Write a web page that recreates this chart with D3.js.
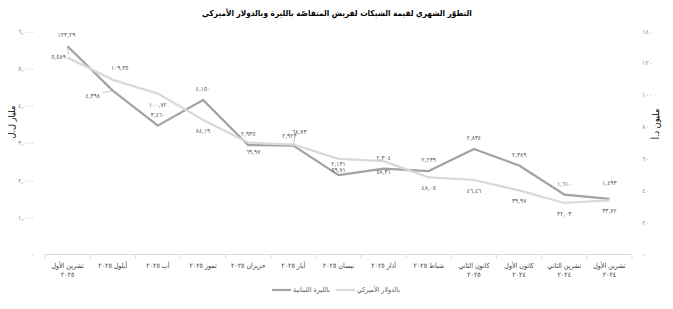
<!DOCTYPE html>
<meta charset="utf-8">
<head>
<title>الشيكات المتقاصة</title>
<style>
body { margin: 0; background: #fff; font-family: "DejaVu Sans", sans-serif; }
.tick text { font-family: "DejaVu Sans", sans-serif; }
</style>
</head>
<body>
<script src="https://cdn.jsdelivr.net/npm/d3@7"></script>
<script>

// Data (right to left on the page: newest month first)
var months = [
  ["تشرين الأول", "٢٠٢٥"], ["أيلول ٢٠٢٥"], ["آب ٢٠٢٥"], ["تموز ٢٠٢٥"],
  ["حزيران ٢٠٢٥"], ["أيار ٢٠٢٥"], ["نيسان ٢٠٢٥"], ["آذار ٢٠٢٥"],
  ["شباط ٢٠٢٥"], ["كانون الثاني", "٢٠٢٥"], ["كانون الأول", "٢٠٢٤"],
  ["تشرين الثاني", "٢٠٢٤"], ["تشرين الأول", "٢٠٢٤"]
];
var lbp = [5589, 4398, 3460, 4150, 2935, 2923, 2131, 2304, 2239, 2834, 2389, 1610, 1493];
var usd = [123.29, 109.35, 100.72, 84.19, 69.97, 68.73, 59.71, 58.31, 48.05, 46.46, 39.97, 32.03, 33.72];
var lbpTicks = [0, 1000, 2000, 3000, 4000, 5000, 6000];
var usdTicks = [0, 20, 40, 60, 80, 100, 120, 140];

var title = "التطوّر الشهري لقيمة الشيكات لفريش المتقاصّة بالليرة وبالدولار الأميركي";
var seriesNames = ["بالليرة اللبنانية", "بالدولار الأميركي"];

var W = 673, H = 309;
var plotLeft = 45, plotRight = 632, plotBottom = 254.5, plotTop = 31;
var darkCol = "#a3a3a3", lightCol = "#d9d9d9";
var condensed = "'DejaVu Sans Condensed', 'DejaVu Sans', sans-serif";

function arDigits(s) {
  return s.replace(/\d/g, function(d) { return "٠١٢٣٤٥٦٧٨٩"[+d]; });
}
function fmtLbp(v) { return arDigits(d3.format(",")(v)); }
function fmtUsd(v) { return arDigits(d3.format(".2f")(v)).replace(".", ","); }

var svg = d3.select("body").append("svg")
  .attr("width", W).attr("height", H);

var x = d3.scaleBand().domain(d3.range(months.length)).range([plotLeft, plotRight]);
var yL = d3.scaleLinear().domain([0, 6000]).range([plotBottom, plotTop]);
var yR = d3.scaleLinear().domain([0, 140]).range([plotBottom - 0.5, plotTop]);

// Title
svg.append("text")
  .attr("x", 337).attr("y", 16)
  .attr("text-anchor", "middle")
  .style("font-family", condensed)
  .style("font-weight", "bold")
  .style("font-size", "8.2px")
  .attr("fill", "#000")
  .text(title);

// Left axis
var axL = svg.append("g")
  .attr("transform", "translate(37,0)")
  .call(d3.axisLeft(yL).tickValues(lbpTicks).tickSize(0).tickFormat(fmtLbp));
axL.select(".domain").remove();
axL.selectAll("text").attr("fill", "#8c8c8c").style("font-size", "6.5px");

// Right axis
var axR = svg.append("g")
  .attr("transform", "translate(639,0)")
  .call(d3.axisRight(yR).tickValues(usdTicks).tickSize(0).tickFormat(function(v) { return arDigits(String(v)); }));
axR.select(".domain").remove();
axR.selectAll("text").attr("fill", "#8c8c8c").style("font-size", "6.5px");

// Axis titles
svg.append("text")
  .attr("transform", "translate(15,122) rotate(-90)")
  .attr("text-anchor", "middle")
  .style("font-size", "9px")
  .style("font-family", condensed)
  .text("مليار ل.ل");
svg.append("text")
  .attr("transform", "translate(659,124) rotate(-90)")
  .attr("text-anchor", "middle")
  .style("font-size", "9px")
  .style("font-family", condensed)
  .text("مليون د.أ");

// Bottom axis line and category ticks
svg.append("line")
  .attr("x1", plotLeft).attr("x2", plotRight)
  .attr("y1", plotBottom).attr("y2", plotBottom)
  .attr("stroke", lightCol).attr("stroke-width", 1);
svg.selectAll(".xtick")
  .data(d3.range(months.length + 1))
  .enter().append("line")
  .attr("class", "xtick")
  .attr("x1", function(i) { return plotLeft + i * x.bandwidth(); })
  .attr("x2", function(i) { return plotLeft + i * x.bandwidth(); })
  .attr("y1", plotBottom).attr("y2", plotBottom + 4)
  .attr("stroke", lightCol);

var xl = svg.selectAll(".xlab")
  .data(months)
  .enter().append("text")
  .attr("class", "xlab")
  .attr("text-anchor", "middle")
  .attr("fill", "#404040")
  .style("font-family", condensed)
  .style("font-size", "7px");
xl.each(function(d, i) {
  var t = d3.select(this);
  d.forEach(function(line, j) {
    t.append("tspan")
      .attr("x", x(i) + x.bandwidth() / 2)
      .attr("y", 268 + j * 9)
      .text(line);
  });
});

// Lines
var cx = function(d, i) { return x(i) + x.bandwidth() / 2; };
var lineL = d3.line().x(cx).y(function(d) { return yL(d); });
var lineR = d3.line().x(cx).y(function(d) { return yR(d); });

svg.append("path").datum(lbp)
  .attr("d", lineL).attr("fill", "none")
  .attr("stroke", darkCol).attr("stroke-width", 2.25)
  .attr("stroke-linejoin", "round");
svg.append("path").datum(usd)
  .attr("d", lineR).attr("fill", "none")
  .attr("stroke", lightCol).attr("stroke-width", 2.25)
  .attr("stroke-linejoin", "round");

// Data labels: default above for LBP, below for USD; a few moved by hand
var lbpOff = {0: [-9, 11, true], 1: [-20, 5, true], 5: [-4, -10], 12: [0, -16]};
var usdOff = {0: [-1, -22.5], 1: [7, -12], 4: [5, 9], 5: [6, -13, true]};

function addLabels(vals, y, off, def, fmt) {
  vals.forEach(function(v, i) {
    var px = cx(v, i), py = y(v);
    var o = off[i] || [0, def];
    var lx = px + o[0], ly = py + o[1];
    if (o[2]) {
      svg.append("line")
        .attr("x1", px).attr("y1", py)
        .attr("x2", lx + (o[0] < -5 ? 10 : -4)).attr("y2", ly + (o[1] > 0 ? -3 : 3))
        .attr("stroke", "#a5a5a5").attr("stroke-width", 0.6);
    }
    svg.append("text")
      .attr("x", lx).attr("y", ly)
      .attr("text-anchor", "middle")
      .attr("dominant-baseline", "central")
      .attr("fill", "#595959")
      .style("font-family", condensed)
      .style("font-size", "6.5px")
      .text(fmt(v));
  });
}
addLabels(lbp, yL, lbpOff, -11, fmtLbp);
addLabels(usd, yR, usdOff, 11, fmtUsd);

// Legend
var legend = svg.append("g").attr("transform", "translate(0,290)");
[[272, darkCol, seriesNames[0]], [336, lightCol, seriesNames[1]]].forEach(function(l) {
  legend.append("line")
    .attr("x1", l[0]).attr("x2", l[0] + 19)
    .attr("y1", 0).attr("y2", 0)
    .attr("stroke", l[1]).attr("stroke-width", 2.25);
  legend.append("text")
    .attr("x", l[0] + 21).attr("y", 0)
    .attr("text-anchor", "start")
    .attr("dominant-baseline", "central")
    .attr("fill", "#595959")
    .style("font-family", condensed)
    .style("font-size", "7px")
    .text(l[2]);
});

</script>
</body>
